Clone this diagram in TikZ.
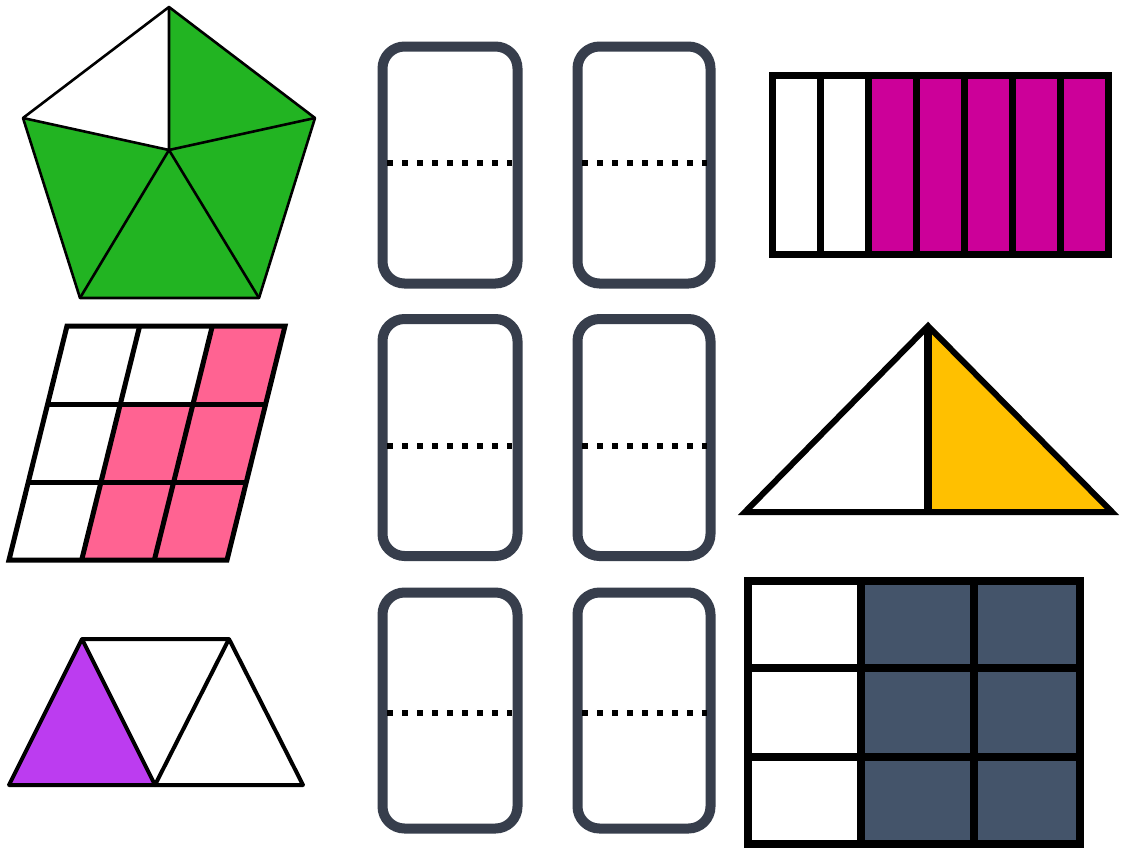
\documentclass[tikz,border=0pt]{standalone}
\definecolor{pgreen}{RGB}{34,180,34}
\definecolor{ppink}{RGB}{255,99,146}
\definecolor{ppurple}{RGB}{188,60,240}
\definecolor{pmagenta}{RGB}{204,0,153}
\definecolor{pyellow}{RGB}{255,192,0}
\definecolor{pslate}{RGB}{68,84,106}
\definecolor{cardframe}{RGB}{55,62,76}
\begin{document}
\begin{tikzpicture}[x=1pt,y=-1pt,
  card/.style={draw=cardframe,line width=10pt,rounded corners=22pt,minimum width=135pt,minimum height=237pt,inner sep=0pt,fill=white},
  cardnarrow/.style={card,minimum width=133pt},
  dotline/.style={line width=6pt,dash pattern=on 6pt off 9pt,black},
  thinline/.style={line width=2.6pt,line join=round,black},
  gridline/.style={line width=5pt,line join=miter,black}]
\useasboundingbox (0,0) rectangle (1121,854);
\fill[white] (0,0) rectangle (1121,854);

% ---- pentagon
\coordinate (pT) at (169,7);
\coordinate (pL) at (23,118);
\coordinate (pR) at (315,118);
\coordinate (pBL) at (80,298);
\coordinate (pBR) at (259,298);
\coordinate (pC) at (169,150);
\fill[pgreen] (pT)--(pR)--(pBR)--(pBL)--(pL)--cycle;
\fill[white] (pT)--(pL)--(pC)--cycle;
\draw[thinline] (pT)--(pR)--(pBR)--(pBL)--(pL)--cycle;
\draw[thinline] (pC)--(pT) (pC)--(pR) (pC)--(pBR) (pC)--(pBL) (pC)--(pL);

% ---- parallelogram grid
\coordinate (gTL) at (67,326);
\coordinate (gTR) at (285,326);
\coordinate (gBR) at (227,560);
\coordinate (gBL) at (9,560);
\foreach \i/\j in {2/0,1/1,2/1,1/2,2/2}{
  \fill[ppink] ({67+72.67*\i-19.33*\j},{326+78*\j}) -- ({67+72.67*(\i+1)-19.33*\j},{326+78*\j})
   -- ({67+72.67*(\i+1)-19.33*(\j+1)},{326+78*(\j+1)}) -- ({67+72.67*\i-19.33*(\j+1)},{326+78*(\j+1)}) -- cycle;
}
\foreach \j in {1,2}{
  \draw[gridline] ({67-19.33*\j},{326+78*\j}) -- ({67+218-19.33*\j},{326+78*\j});
}
\foreach \i in {1,2}{
  \draw[gridline] ({67+72.67*\i},326) -- ({67+72.67*\i-58},560);
}
\draw[gridline] (gTL)--(gTR)--(gBR)--(gBL)--cycle;

% ---- triangles
\coordinate (tA) at (9,785);
\coordinate (tB) at (82,639);
\coordinate (tC) at (155,785);
\coordinate (tD) at (229,639);
\coordinate (tE) at (303,785);
\fill[ppurple] (tA)--(tB)--(tC)--cycle;
\draw[line width=4pt,line join=round] (tA)--(tB)--(tD)--(tE)--cycle;
\draw[line width=4pt,line join=round] (tB)--(tC)--(tD);

% ---- cards
\node[card] (c11) at (450,165) {};
\node[cardnarrow] (c12) at (644,165) {};
\node[card] (c21) at (450,437.5) {};
\node[cardnarrow] (c22) at (644,437.5) {};
\node[card,minimum height=236pt] (c31) at (450,710.5) {};
\node[cardnarrow,minimum height=236pt] (c32) at (644,710.5) {};
\draw[dotline] (387,163) -- (512,163);
\draw[dotline] (582,163) -- (707,163);
\draw[dotline] (387,446) -- (512,446);
\draw[dotline] (582,446) -- (707,446);
\draw[dotline] (387,713) -- (512,713);
\draw[dotline] (582,713) -- (707,713);

% ---- magenta bar
\fill[pmagenta] (868,75) rectangle (1108,254);
\draw[line width=7pt] (772,75) rectangle (1108,254);
\foreach \x in {820,868,916,964,1012,1060}{
  \draw[line width=7pt] (\x,75) -- (\x,254);
}

% ---- yellow triangle
\coordinate (yL) at (745,512);
\coordinate (yT) at (928,326);
\coordinate (yR) at (1112,512);
\coordinate (yM) at (928,512);
\fill[pyellow] (yT)--(yR)--(yM)--cycle;
\draw[line width=6pt] (yL)--(yT)--(yR)--cycle;
\draw[line width=8pt] (yT)--(yM);

% ---- slate grid
\fill[pslate] (861,581) rectangle (1080,844);
\draw[line width=8pt] (748,581) rectangle (1080,844);
\draw[line width=8pt] (861,581) -- (861,844) (974,581) -- (974,844);
\draw[line width=8pt] (748,668) -- (1080,668) (748,757) -- (1080,757);
\end{tikzpicture}
\end{document}
